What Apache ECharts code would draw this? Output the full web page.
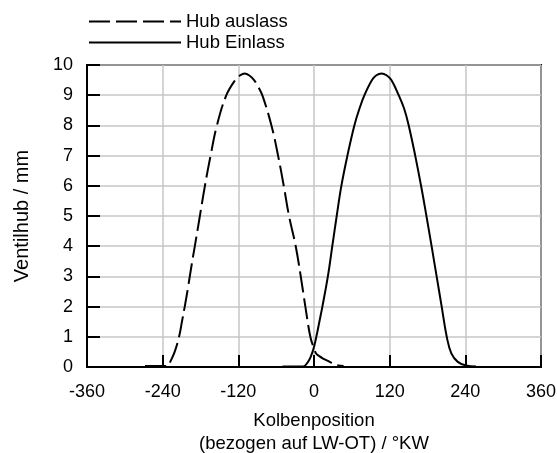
<!DOCTYPE html>
<html>
<head>
<meta charset="utf-8">
<script src="https://cdn.jsdelivr.net/npm/echarts@6/dist/echarts.min.js"></script>
<style>
html, body { margin: 0; padding: 0; background: #fff; }
#chart { width: 557px; height: 453px; }
</style>
</head>
<body>
<div id="chart"></div>
<script>
// crank angle ticks (°KW)
var xTicks = [-360, -240, -120, 0, 120, 240, 360];
var seriesNames = ['Hub auslass', 'Hub Einlass'];

// exhaust valve lift (dashed)
var auslassX = [-268, -240, -231, -228, -221, -214, -209, -205, -200, -197, -192, -189, -181, -173, -164, -154, -139, -125, -117, -110, -103, -95, -89, -82, -67.5, -57, -48, -39.6, -29, -21, -13.7, -5.8, 0, 3.7, 9, 14.3, 25, 33, 47];
var auslassY = [0.03, 0.03, 0.04, 0.17, 0.5, 1.0, 1.55, 2.0, 2.6, 3.0, 3.64, 4.0, 5.0, 6.0, 7.0, 8.0, 9.0, 9.5, 9.66, 9.72, 9.66, 9.5, 9.3, 9.0, 8.0, 7.0, 6.0, 5.0, 4.0, 3.0, 2.0, 1.0, 0.61, 0.44, 0.35, 0.28, 0.17, 0.08, 0.03];

// intake valve lift (solid)
var einlassX = [-50, -17, -9.5, -4.2, 0, 3.7, 9, 13.3, 22, 29, 36, 43.4, 53, 64, 72, 80, 92, 99, 107, 115, 122.7, 134.3, 143, 150.2, 160.5, 169.8, 178.3, 186.5, 194.5, 202.5, 210.5, 218, 228, 241, 257];
var einlassY = [0.02, 0.02, 0.17, 0.39, 0.66, 1.0, 1.55, 2.0, 3.0, 4.0, 5.0, 6.0, 7.0, 8.0, 8.55, 9.0, 9.5, 9.66, 9.72, 9.66, 9.5, 9.0, 8.55, 8.0, 7.0, 6.0, 5.0, 4.0, 3.0, 2.0, 1.0, 0.44, 0.17, 0.05, 0.02];

function pairs(xs, ys) {
    return xs.map(function (x, i) { return [x, ys[i]]; });
}

var font = "'Liberation Sans', Arial, sans-serif";
var chart = echarts.init(document.getElementById('chart'), null, { renderer: 'canvas' });

chart.setOption({
    animation: false,
    backgroundColor: '#fff',
    textStyle: { fontFamily: font, color: '#000' },
    grid: {
        left: 87, right: 16, top: 65, bottom: 86,
        outerBoundsMode: 'none',
        show: true, borderColor: '#000', borderWidth: 2, backgroundColor: 'transparent'
    },
    legend: {
        orient: 'vertical',
        left: 88, top: 12, padding: 0,
        itemWidth: 92, itemHeight: 14, itemGap: 2,
        itemStyle: { opacity: 0, borderWidth: 0 },
        textStyle: { fontFamily: font, fontSize: 18.5, color: '#000' },
        data: seriesNames
    },
    xAxis: {
        type: 'value',
        min: xTicks[0], max: xTicks[xTicks.length - 1], interval: 120,
        name: 'Kolbenposition\n(bezogen auf LW-OT) / °KW',
        nameLocation: 'middle', nameGap: 42,
        nameTextStyle: { fontFamily: font, fontSize: 18.5, color: '#000', lineHeight: 23 },
        axisLine: { show: true, onZero: false, lineStyle: { color: '#000', width: 2 } },
        axisTick: { show: true, inside: true, length: 12, lineStyle: { color: '#000', width: 2 } },
        axisLabel: { fontFamily: font, fontSize: 18, color: '#000', margin: 16 },
        splitLine: { show: true, lineStyle: { color: '#c6c6c6', width: 1.5 } }
    },
    yAxis: {
        type: 'value',
        min: 0, max: 10, interval: 1,
        name: 'Ventilhub / mm',
        nameLocation: 'middle', nameGap: 55, nameRotate: 90,
        nameTextStyle: { fontFamily: font, fontSize: 20, color: '#000' },
        axisLine: { show: true, onZero: false, lineStyle: { color: '#000', width: 2 } },
        axisTick: { show: true, inside: true, length: 13, lineStyle: { color: '#000', width: 2 } },
        axisLabel: { fontFamily: font, fontSize: 18, color: '#000', margin: 14 },
        splitLine: { show: true, lineStyle: { color: '#c6c6c6', width: 1.5 } }
    },
    series: [
        {
            name: seriesNames[0],
            type: 'line',
            data: pairs(auslassX, auslassY),
            symbol: 'none',
            smooth: 0.4,
            lineStyle: { color: '#000', width: 2, type: [21, 6] },
            itemStyle: { color: '#000' },
            z: 3
        },
        {
            name: seriesNames[1],
            type: 'line',
            data: pairs(einlassX, einlassY),
            symbol: 'none',
            smooth: 0.4,
            lineStyle: { color: '#000', width: 2 },
            itemStyle: { color: '#000' },
            z: 3
        }
    ]
});
</script>
</body>
</html>
